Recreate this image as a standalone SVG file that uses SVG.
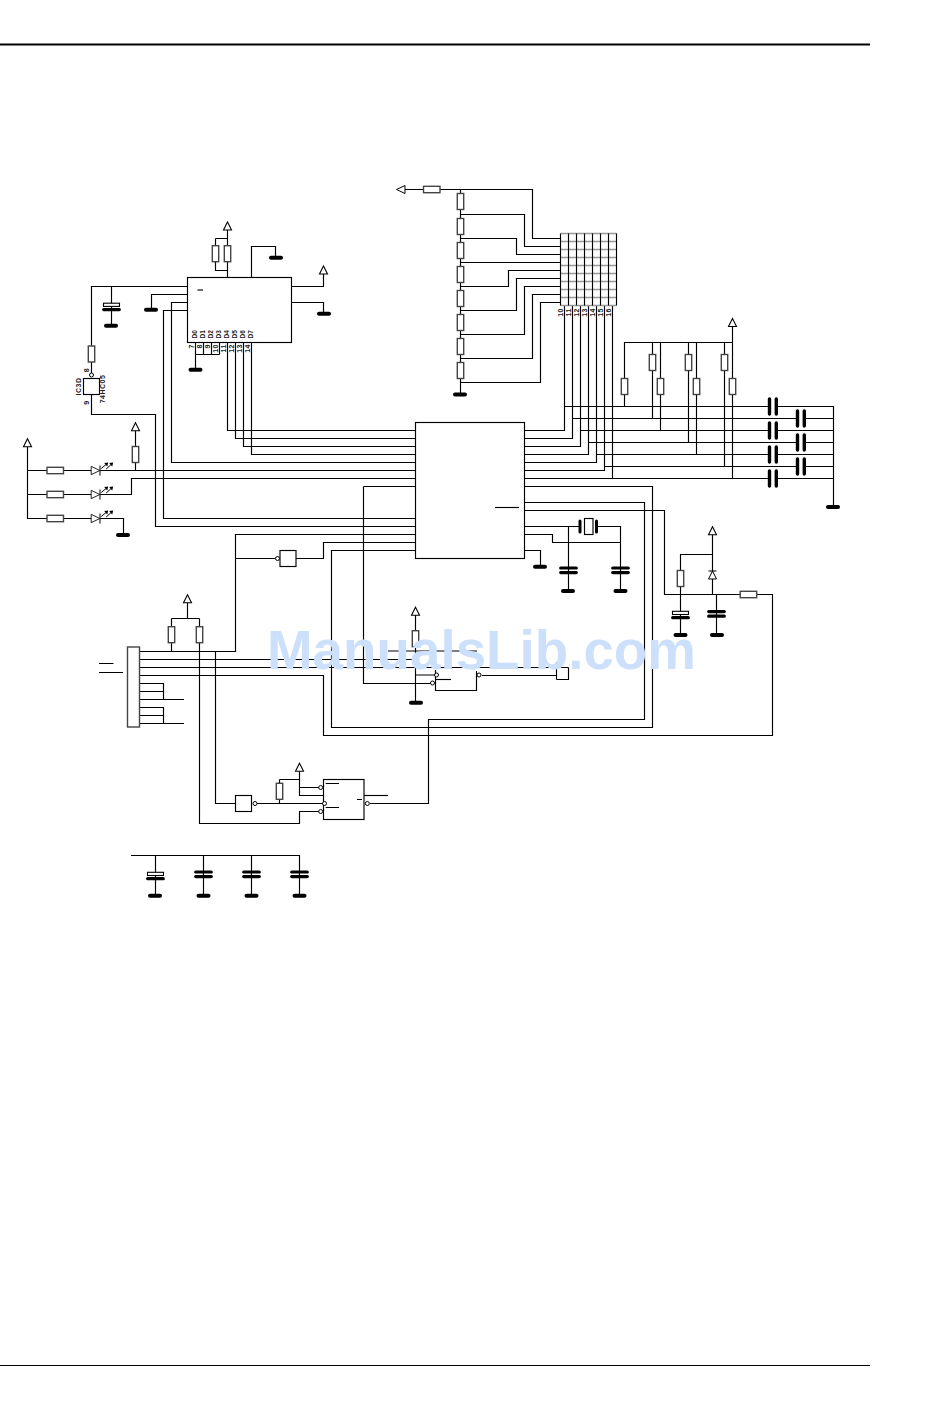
<svg xmlns="http://www.w3.org/2000/svg" xmlns:xlink="http://www.w3.org/1999/xlink" width="950" height="1409" viewBox="0 0 950 1409">
<style>
.w{fill:none;stroke:#000;stroke-width:1.15}
.g{fill:none;stroke:#999;stroke-width:1.6}
.b{fill:#fff;stroke:#000;stroke-width:1.15}
.r{fill:#fff;stroke:#444;stroke-width:1.4}
.t{font-family:"Liberation Sans",Arial,sans-serif;font-size:6.5px;font-weight:bold;fill:#222}
.n{font-family:"Liberation Sans",Arial,sans-serif;font-size:7px;font-weight:bold;fill:#222;letter-spacing:.5px;text-anchor:end}
.wm{font-family:"Liberation Sans",Arial,sans-serif;font-size:55px;font-weight:bold;fill:#cde0fb}
</style>
<defs>
<path id="gnd" d="M-5 0H5" fill="none" stroke="#000" stroke-width="4" stroke-linecap="round"/>
<path id="vcc" d="M0 0L4 8H-4Z" fill="#fff" stroke="#000" stroke-width="1.1"/>
<rect id="rv" x="-3.2" y="0" width="6.4" height="16" class="r"/>
<rect id="rh" x="0" y="-3.2" width="16.5" height="6.4" class="r"/>
<g id="cap" fill="none" stroke="#000" stroke-width="3.2" stroke-linecap="round"><path d="M-7.8 0H7.8M-7.8 4.6H7.8"/></g>
<g id="pcap"><rect x="-8" y="-3" width="16" height="3.2" fill="#fff" stroke="#000" stroke-width="1.1"/><path d="M-7.8 3.4H7.8" fill="none" stroke="#000" stroke-width="3.2" stroke-linecap="round"/></g>
<g id="bar" fill="none" stroke="#000" stroke-width="3.4" stroke-linecap="round"><path d="M0 -7.6V7.6M6.8 -7.6V7.6"/></g>
<g id="led"><path d="M0 -4.2L8.6 0L0 4.2Z" fill="#fff" stroke="#222"/><path d="M8.8 -5V5" fill="none" stroke="#000"/><path d="M10 -2L15.5 -6.5M15 -1.5L20.5 -6.5" fill="none" stroke="#000"/><path d="M13 -7.6L17 -8L16 -4ZM18 -7.6L22 -8L21 -4Z" fill="#000"/></g>
<circle id="dot" r="2" fill="#fff" stroke="#000" stroke-width="1"/>
</defs>
<rect width="950" height="1409" fill="#fff"/>
<path d="M0 44.5H870" fill="none" stroke="#000" stroke-width="2"/>
<path d="M0 1365.5H870" fill="none" stroke="#000" stroke-width="1"/>

<g id="connectors" class="w">
<path d="M405 189.5H532.5V238.5H560.5"/>
<path d="M460.5 189.5V394"/>
<path d="M460.5 214.5H524.5V246.5H560.5"/>
<path d="M460.5 238.5H516.5V254.5H560.5"/>
<path d="M460.5 262.5H560.5"/>
<path d="M460.5 286.5H508.5V270.5H560.5"/>
<path d="M460.5 310.5H516.5V278.5H560.5"/>
<path d="M460.5 334.5H524.5V286.5H560.5"/>
<path d="M460.5 358.5H532.5V294.5H560.5"/>
<path d="M460.5 382.5H540.5V302.5H560.5"/>
<path d="M564.5 306V430.5H524.5"/>
<path d="M572.5 306V438.5H524.5"/>
<path d="M580.5 306V446.5H524.5"/>
<path d="M588.5 306V454.5H524.5"/>
<path d="M596.5 306V462.5H524.5"/>
<path d="M604.5 306V470.5H524.5"/>
<path d="M612.5 306V478.5H524.5"/>
<path d="M564.5 406.5H833.5V507"/>
<path d="M572.5 418.5H833.5"/>
<path d="M580.5 430.5H833.5"/>
<path d="M588.5 442.5H833.5"/>
<path d="M596.5 454.5H833.5"/>
<path d="M604.5 466.5H833.5"/>
<path d="M524.5 478.5H833.5"/>
<path d="M624.5 406.5V342.5H732.5V479"/>
<path d="M652.5 342.5V418.5M660.5 342.5V430.5M688.5 342.5V442.5M696.5 342.5V454.5M724.5 342.5V466.5"/>
<path d="M732.5 322V342"/>
<path d="M524.5 486.5H652.5V727.5H331.5V550.5H415.5"/>
<path d="M524.5 502.5H644.5V719.5H428.5V803.5H370"/>
<path d="M524.5 510.5H664.5V594.5H772.5V735.5H323.5V675.5H139"/>
<path d="M495 507.5H519"/>
<path d="M524.5 526.5H580M596 526.5H620.5V591M568.5 526.5V591"/>
<path d="M524.5 534.5H552.5V542.5H620.5"/>
<path d="M524.5 550.5H540.5V566"/>
<path d="M712.5 530V594M712.5 554.5H680.5V635M716.5 594.5V635"/>
<path d="M227.5 226V277.5M215.5 238.5H227.5M215.5 238.5V270.5H227.5"/>
<path d="M251.5 277.5V246.5H275.5V257"/>
<path d="M291.5 286.5H323.5V270M291.5 302.5H323.5V313"/>
<path d="M187.5 286.5H91.5V373M111.5 286.5V325"/>
<path d="M91.5 394.5V414.5H155.5V526.5H415.5"/>
<path d="M187.5 294.5H151.5V309"/>
<path d="M187.5 302.5H171.5V462.5H415.5"/>
<path d="M187.5 310.5H163.5V518.5H415.5"/>
<path d="M195.5 342.5V369M203.5 342.5V354.5M211.5 342.5V354.5M219.5 342.5V354.5M195.5 354.5H219.5"/>
<path d="M227.5 342.5V430.5H415.5M235.5 342.5V438.5H415.5M243.5 342.5V446.5H415.5M251.5 342.5V454.5H415.5"/>
<path d="M27.5 443V518.5H91M27 470.5H91M27 494.5H91"/>
<path d="M100 470.5H415.5M135.5 426V470"/>
<path d="M100 494.5H131.5V478.5H415.5"/>
<path d="M100 518.5H123.5V535"/>
<path d="M415.5 534.5H235.5V651.5H139M235.5 558.5H275"/>
<path d="M296 558.5H323.5V542.5H415.5"/>
<path d="M363.5 486.5H415.5M363.5 486.5V683.5H430.5"/>
<path d="M187.5 598V618.5M171.5 618.5H199.5M171.5 618.5V651.5"/>
<path d="M199.5 618.5V823.5H299.5V811.5H319"/>
<path d="M215.5 651.5V803.5H235.5"/>
<path d="M139 659.5H415.5M139 667.5H568.5"/>
<path d="M388 651H477"/>
<path d="M139 683.5H163.5V699.5M139 691.5H163.5M139 699.5H184"/>
<path d="M139 707.5H163.5V723.5M139 715.5H163.5M139 723.5H184"/>
<path d="M99 663.5H113.5M99 672.5H123"/>
<path d="M415.5 612V702M415.5 675H435"/>
<path d="M435.5 670V690.5H476.5V671"/>
<path d="M482 675.5H556.5"/>
<path d="M556.5 679.5H568.5V667.5M556.5 662V679.5"/>
<path d="M257 803.5H323"/>
<path d="M279.5 779.5H299.5M279.5 779.5V803.5M299.5 768V795.5H323.5M299.5 787.5H319"/>
<path d="M364 795.5H388"/>
<path d="M131 855.5H299.5V895M155.5 855.5V895M203.5 855.5V895M251.5 855.5V895"/>
</g>

<g id="matrix">
<path class="g" d="M560.5 233.5H616.5M560.5 241.5H616.5M560.5 249.5H616.5M560.5 257.5H616.5M560.5 265.5H616.5M560.5 273.5H616.5M560.5 281.5H616.5M560.5 289.5H616.5M560.5 297.5H616.5M560.5 305.5H616.5"/>
<path class="w" d="M560.5 233.5V305.5M568.5 233.5V305.5M576.5 233.5V305.5M584.5 233.5V305.5M592.5 233.5V305.5M600.5 233.5V305.5M608.5 233.5V305.5M616.5 233.5V305.5"/>
<text class="n" transform="translate(562.5 308) rotate(-90)">10</text>
<text class="n" transform="translate(570.5 308) rotate(-90)">11</text>
<text class="n" transform="translate(578.5 308) rotate(-90)">12</text>
<text class="n" transform="translate(586.5 308) rotate(-90)">13</text>
<text class="n" transform="translate(594.5 308) rotate(-90)">14</text>
<text class="n" transform="translate(602.5 308) rotate(-90)">15</text>
<text class="n" transform="translate(610.5 308) rotate(-90)">16</text>
</g>
<g id="ladder">
<path d="M396.5 189.5L405 185.5V193.5Z" fill="#fff" stroke="#000"/>
<use href="#rh" x="423.5" y="189.5"/>
<use href="#rv" x="460.5" y="193.5"/><use href="#rv" x="460.5" y="218.5"/><use href="#rv" x="460.5" y="242.5"/><use href="#rv" x="460.5" y="266.5"/><use href="#rv" x="460.5" y="290.5"/><use href="#rv" x="460.5" y="314.5"/><use href="#rv" x="460.5" y="338.5"/><use href="#rv" x="460.5" y="362.5"/>
<use href="#gnd" x="460" y="394.5"/>
</g>
<g id="pullups">
<use href="#vcc" x="732.5" y="318.5"/>
<use href="#rv" x="624.5" y="378.5"/><use href="#rv" x="652.5" y="354.5"/><use href="#rv" x="660.5" y="378.5"/><use href="#rv" x="688.5" y="354.5"/><use href="#rv" x="696.5" y="378.5"/><use href="#rv" x="724.5" y="354.5"/><use href="#rv" x="732.5" y="378.5"/>
</g>
<g id="bus-caps">
<g fill="#fff"><rect x="770.5" y="404" width="4.5" height="5"/><rect x="770.5" y="428" width="4.5" height="5"/><rect x="770.5" y="452" width="4.5" height="5"/><rect x="770.5" y="476" width="4.5" height="5"/><rect x="798.5" y="416" width="4.5" height="5"/><rect x="798.5" y="440" width="4.5" height="5"/><rect x="798.5" y="464" width="4.5" height="5"/></g>
<use href="#bar" x="769.5" y="406.5"/><use href="#bar" x="769.5" y="430.5"/><use href="#bar" x="769.5" y="454.5"/><use href="#bar" x="769.5" y="478.5"/>
<use href="#bar" x="797.5" y="418.5"/><use href="#bar" x="797.5" y="442.5"/><use href="#bar" x="797.5" y="466.5"/>
<use href="#gnd" x="833" y="507"/>
</g>
<g id="ic-main">
<rect class="b" x="415.5" y="422.5" width="109" height="136" fill-opacity="0"/>
</g>
<g id="crystal">
<path d="M580 521V532M596.5 521V532" fill="none" stroke="#000" stroke-width="3" stroke-linecap="round"/>
<rect class="b" x="584.5" y="518.5" width="8.5" height="16"/>
<use href="#cap" x="568.5" y="568"/><use href="#cap" x="620.5" y="568"/>
<use href="#gnd" x="568" y="591"/><use href="#gnd" x="620.5" y="591"/><use href="#gnd" x="540" y="566.7"/>
</g>
<g id="reset-supply">
<use href="#vcc" x="712.5" y="526.7"/>
<path d="M712.5 571L716.5 579H708.5ZM708.5 571H716.5" fill="#fff" stroke="#000"/>
<use href="#rv" x="680.5" y="570.5"/>
<use href="#pcap" x="680.5" y="614.3"/>
<use href="#cap" x="716.5" y="611.6"/>
<use href="#gnd" x="680.5" y="635"/><use href="#gnd" x="717" y="635"/>
<use href="#rh" x="740.2" y="594.5"/>
</g>
<g id="ic-top">
<rect class="b" x="187.5" y="277.5" width="104" height="65" fill-opacity="0"/>
<path class="w" d="M197.5 290H203"/>
<use href="#vcc" x="227.5" y="222"/>
<use href="#rv" x="215.5" y="245.7"/><use href="#rv" x="227.5" y="245.7"/>
<use href="#gnd" x="276" y="257.7"/>
<use href="#vcc" x="323.5" y="266"/>
<use href="#gnd" x="324" y="313.7"/>
<use href="#pcap" x="111.5" y="306.2"/>
<use href="#gnd" x="111" y="325.7"/>
<use href="#gnd" x="151" y="309.7"/>
<use href="#gnd" x="195.5" y="369.7"/>
<g class="t">
<text transform="translate(196.5 338.5) rotate(-90)">D0</text>
<text transform="translate(204.5 338.5) rotate(-90)">D1</text>
<text transform="translate(212.5 338.5) rotate(-90)">D2</text>
<text transform="translate(220.5 338.5) rotate(-90)">D3</text>
<text transform="translate(228.5 338.5) rotate(-90)">D4</text>
<text transform="translate(236.5 338.5) rotate(-90)">D5</text>
<text transform="translate(244.5 338.5) rotate(-90)">D6</text>
<text transform="translate(252.5 338.5) rotate(-90)">D7</text>
</g>
<text class="n" transform="translate(193.5 344) rotate(-90)">7</text>
<text class="n" transform="translate(201.5 344) rotate(-90)">8</text>
<text class="n" transform="translate(209.5 344) rotate(-90)">9</text>
<text class="n" transform="translate(217.5 344) rotate(-90)">10</text>
<text class="n" transform="translate(225.5 344) rotate(-90)">11</text>
<text class="n" transform="translate(233.5 344) rotate(-90)">12</text>
<text class="n" transform="translate(241.5 344) rotate(-90)">13</text>
<text class="n" transform="translate(249.5 344) rotate(-90)">14</text>
</g>
<g id="ic3d">
<use href="#rv" x="91.5" y="346"/>
<use href="#dot" x="91.5" y="375"/>
<rect class="b" x="83.5" y="378.5" width="16" height="16"/>
<text class="n" style="text-anchor:middle" transform="translate(81 386.5) rotate(-90)">IC3D</text>
<text class="n" style="text-anchor:middle" transform="translate(105 389) rotate(-90)">74HC05</text>
<text class="n" style="text-anchor:middle" transform="translate(89 370) rotate(-90)">8</text>
<text class="n" style="text-anchor:middle" transform="translate(89 402.5) rotate(-90)">9</text>
</g>
<g id="leds">
<use href="#vcc" x="27.5" y="438.7"/>
<use href="#rh" x="47" y="470.5"/><use href="#rh" x="47" y="494.5"/><use href="#rh" x="47" y="518.5"/>
<use href="#led" x="91.2" y="470.5"/><use href="#led" x="91.2" y="494.5"/><use href="#led" x="91.2" y="518.5"/>
<use href="#gnd" x="123" y="535"/>
<use href="#vcc" x="135.5" y="422.7"/>
<use href="#rv" x="135.5" y="446.5"/>
</g>
<g id="inverter-1">
<rect class="b" x="280" y="550.5" width="16" height="16"/>
<use href="#dot" x="277.5" y="558.5"/>
</g>
<g id="connector">
<rect class="r" x="127.5" y="647" width="12" height="80"/>
<use href="#vcc" x="187.5" y="594.7"/>
<use href="#rv" x="171.5" y="626.7"/><use href="#rv" x="199.5" y="626.7"/>
</g>
<g id="gate-lower">
<use href="#vcc" x="415.5" y="607.3"/>
<use href="#rv" x="415.5" y="630.7"/>
<use href="#gnd" x="416" y="702.7"/>
<use href="#dot" x="436.5" y="675"/><use href="#dot" x="432.5" y="683"/><use href="#dot" x="479" y="675"/>
<path class="w" d="M436 679.5H451"/>
</g>
<g id="inverter-2">
<rect class="b" x="235.5" y="795.5" width="16" height="16"/>
<use href="#dot" x="255" y="803.5"/>
</g>
<g id="flipflop">
<use href="#vcc" x="299.5" y="763.3"/>
<use href="#rv" x="279.5" y="783.3"/>
<rect class="b" x="323.5" y="779.5" width="40.5" height="40" fill-opacity="0"/>
<path class="w" d="M325.7 783.5H339M325.7 807.5H339M357 799.5H362"/>
<use href="#dot" x="320.7" y="787.5"/><use href="#dot" x="324.5" y="803.5"/><use href="#dot" x="320.7" y="811.5"/><use href="#dot" x="367.3" y="803.5"/>
</g>
<g id="decoupling">
<use href="#pcap" x="155.5" y="875.3"/>
<use href="#cap" x="203.5" y="872"/><use href="#cap" x="251.5" y="872"/><use href="#cap" x="299.5" y="872"/>
<use href="#gnd" x="155" y="895.7"/><use href="#gnd" x="203.5" y="895.7"/><use href="#gnd" x="251.5" y="895.7"/><use href="#gnd" x="299.5" y="895.7"/>
</g>
<text class="wm" x="267" y="669" textLength="429" lengthAdjust="spacingAndGlyphs">ManualsLib.com</text>
</svg>
